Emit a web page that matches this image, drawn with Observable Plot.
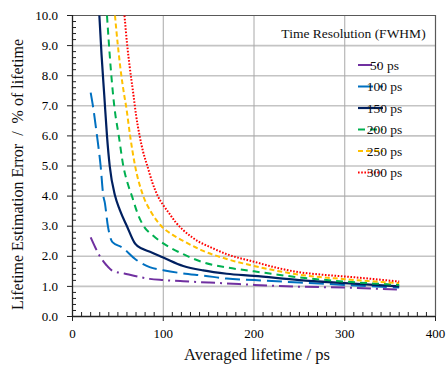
<!DOCTYPE html>
<html><head><meta charset="utf-8">
<script src="https://cdn.jsdelivr.net/npm/d3@7"></script>
<script src="https://cdn.jsdelivr.net/npm/@observablehq/plot@0.6"></script>
<style>body{margin:0;background:#fff}</style>
</head><body><div id="chart"></div>
<script>
// ---- data ----
const seriesNames = ["50 ps", "100 ps", "150 ps", "200 ps", "250 ps", "300 ps"];
const x50  = [20, 25, 31, 37, 44, 57, 73, 85, 100, 122, 150, 170, 200, 250, 300, 360];
const y50  = [2.63, 2.3, 1.96, 1.72, 1.52, 1.43, 1.32, 1.25, 1.21, 1.17, 1.13, 1.10, 1.05, 0.99, 0.96, 0.89];
const x100 = [20, 23, 27, 31, 34, 35.5, 39, 44, 55, 69, 85, 100, 122, 144, 170, 200, 250, 300, 360];
const y100 = [7.44, 6.9, 6.0, 5.0, 4.0, 3.8, 3.0, 2.47, 2.29, 1.91, 1.64, 1.54, 1.43, 1.36, 1.26, 1.21, 1.13, 1.05, 0.96];
const x150 = [29.6, 32, 35, 38, 41, 47, 52, 60, 69, 77, 86, 100, 122, 144, 170, 200, 250, 300, 360];
const y150 = [10, 8.7, 7.35, 6.0, 5.0, 4.0, 3.55, 3.0, 2.42, 2.25, 2.14, 1.96, 1.68, 1.53, 1.42, 1.35, 1.21, 1.11, 1.00];
const x200 = [38, 42, 46, 51, 56, 61, 65.5, 72, 78.5, 89, 100, 122, 144, 170, 200, 250, 300, 360];
const y200 = [10, 8.3, 7.0, 6.0, 5.0, 4.4, 4.0, 3.4, 3.0, 2.68, 2.43, 2.07, 1.80, 1.63, 1.50, 1.30, 1.16, 1.05];
const x250 = [46.8, 50, 53, 57, 59, 63.5, 69, 78, 86, 98, 110, 122, 144, 170, 200, 250, 300, 360];
const y250 = [10, 9.0, 8.2, 7.35, 7.0, 6.0, 5.0, 4.0, 3.5, 3.0, 2.72, 2.51, 2.18, 1.91, 1.68, 1.39, 1.24, 1.11];
const x300 = [57.3, 60, 63, 67, 70, 74, 78, 82.5, 88, 94, 100, 106, 114, 122, 131, 140, 150, 170, 200, 225, 250, 275, 300, 330, 360];
const y300 = [10, 9.1, 8.3, 7.4, 6.7, 6.0, 5.45, 5.0, 4.45, 4.0, 3.7, 3.45, 3.12, 2.87, 2.65, 2.47, 2.33, 2.07, 1.82, 1.62, 1.47, 1.39, 1.33, 1.25, 1.16];

const xTicks = [0, 100, 200, 300, 400];
const yTicks = [0, 1, 2, 3, 4, 5, 6, 7, 8, 9, 10];
const xGrid = [100, 200, 300];
const xMinor = [10,20,30,40,50,60,70,80,90,110,120,130,140,150,160,170,180,190,210,220,230,240,250,260,270,280,290,310,320,330,340,350,360,370,380,390];
const yMinor = [0.2,0.4,0.6,0.8,1.2,1.4,1.6,1.8,2.2,2.4,2.6,2.8,3.2,3.4,3.6,3.8,4.2,4.4,4.6,4.8,5.2,5.4,5.6,5.8,6.2,6.4,6.6,6.8,7.2,7.4,7.6,7.8,8.2,8.4,8.6,8.8,9.2,9.4,9.6,9.8];

const xTitle = "Averaged lifetime / ps";
const yTitle = "Lifetime Estimation Error  /  % of lifetime";
const legendTitle = "Time Resolution (FWHM)";

// ---- styles ----
const FONT = "'Liberation Serif', 'Times New Roman', Times, 'DejaVu Serif', serif";
const xs = [x50, x100, x150, x200, x250, x300];
const ys = [y50, y100, y150, y200, y250, y300];
const colors = ["#7030A0", "#0070C0", "#002060", "#00B050", "#FFC000", "#FF0000"];
const dashes = ["14,5,2,5", "15,6", null, "7,5", "5,3", "1.6,1.6"];
const widths = [2, 2, 2.2, 2, 2, 2];

const rows = [];
seriesNames.forEach((s, i) => xs[i].forEach((x, j) => rows.push({series: s, x, y: ys[i][j]})));

const W = 446, H = 365, mL = 72, mR = 11, mT = 15, mB = 49;
const plotW = W - mL - mR, plotH = H - mT - mB;

const chart = Plot.plot({
  width: W, height: H,
  marginLeft: mL, marginRight: mR, marginTop: mT, marginBottom: mB,
  style: {fontFamily: FONT, fontSize: "13px", background: "white", color: "black"},
  x: {domain: [0, 400]},
  y: {domain: [0, 10]},
  marks: [
    Plot.gridY(yTicks.filter(d => d > 0 && d < 10), {stroke: "#c4c4c4", strokeOpacity: 1, strokeWidth: 1.6}),
    Plot.gridX(xGrid, {stroke: "#a8a8a8", strokeOpacity: 1, strokeWidth: 1}),
    Plot.ruleY([10], {stroke: "#595959", strokeWidth: 1.2}),
    Plot.ruleX([400], {stroke: "#595959", strokeWidth: 1.2}),
    ...seriesNames.map((s, i) => Plot.line(rows.filter(r => r.series === s), {
      x: "x", y: "y", stroke: colors[i], strokeWidth: widths[i],
      strokeDasharray: dashes[i], strokeLinecap: "butt", strokeLinejoin: "round",
      curve: "monotone-x", clip: true
    })),
    Plot.tickY(yMinor, {y: d => d, insetRight: plotW - 4, stroke: "#222", strokeWidth: 1}),
    Plot.tickX(xMinor, {x: d => d, insetTop: plotH - 4, stroke: "#222", strokeWidth: 1}),
    Plot.ruleY([0], {stroke: "#222", strokeWidth: 1.3}),
    Plot.ruleX([0], {stroke: "#222", strokeWidth: 1.3}),
    Plot.axisX({ticks: xTicks, tickSize: 5, tickPadding: 7, label: null, fontSize: 13, stroke: "#222"}),
    Plot.axisY({ticks: yTicks, tickFormat: d3.format(".1f"), tickSize: 5, tickPadding: 9.5, label: null, fontSize: 13, stroke: "#222"})
  ]
});
document.getElementById("chart").appendChild(chart);

// ---- titles and legend ----
const svg = d3.select(chart);
const g = svg.append("g").style("font-family", FONT).attr("fill", "#111");
g.append("text").attr("x", 257).attr("y", 359.5).attr("text-anchor", "middle")
  .attr("font-size", 16.5).text(xTitle);
g.append("text").attr("transform", "translate(23,174.5) rotate(-90)").attr("text-anchor", "middle")
  .attr("font-size", 16).style("white-space", "pre").text(yTitle);
g.append("text").attr("x", 353.5).attr("y", 38).attr("text-anchor", "middle")
  .attr("font-size", 13.5).text(legendTitle);
seriesNames.forEach((s, i) => {
  const yy = 65 + i * 21.5;
  g.append("line").attr("x1", 358).attr("x2", 383).attr("y1", yy).attr("y2", yy)
    .attr("stroke", colors[i]).attr("stroke-width", widths[i])
    .attr("stroke-dasharray", dashes[i]);
  g.append("text").attr("x", 384.5).attr("y", yy + 4.5).attr("font-size", 13.5).text(s);
});
</script>
</body></html>
